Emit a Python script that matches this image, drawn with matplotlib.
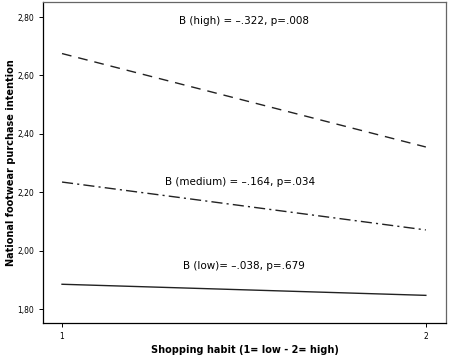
import matplotlib.pyplot as plt
from matplotlib.ticker import FuncFormatter

# simple slopes: shopping habit (1 = low, 2 = high)
habit = [1, 2]
high_vals = [2.675, 2.355]
medium_vals = [2.235, 2.071]
low_vals = [1.885, 1.847]

labels = {
    "high": "B (high) = \u2013.322, p=.008",
    "medium": "B (medium) = \u2013.164, p=.034",
    "low": "B (low)= \u2013.038, p=.679",
}
yticks = [1.80, 2.00, 2.20, 2.40, 2.60, 2.80]

plt.rcParams.update({
    "font.family": "DejaVu Sans",
    "axes.linewidth": 0.9,
})

fig = plt.figure(figsize=(4.49, 3.59), dpi=100)
ax = fig.add_axes([0.096, 0.100, 0.897, 0.894])

ax.plot(habit, high_vals, color="#222222", lw=1.0, linestyle=(0, (7, 5)))
ax.plot(habit, medium_vals, color="#222222", lw=1.0, linestyle=(0, (8, 3, 1.5, 3)))
ax.plot(habit, low_vals, color="#222222", lw=1.0, linestyle="-")

ax.text(1.50, 2.785, labels["high"], ha="center", va="center", fontsize=7.5)
ax.text(1.49, 2.235, labels["medium"], ha="center", va="center", fontsize=7.5)
ax.text(1.50, 1.947, labels["low"], ha="center", va="center", fontsize=7.5)

ax.set_xlim(0.948, 2.055)
ax.set_ylim(1.752, 2.851)
ax.set_xticks(habit)
ax.set_yticks(yticks)
ax.yaxis.set_major_formatter(FuncFormatter(lambda v, p: f"{v:.2f}".replace(".", ",")))
ax.tick_params(labelsize=5.5, length=3, width=0.7, direction="out")

ax.set_xlabel("Shopping habit (1= low - 2= high)", fontsize=7, fontweight="bold", labelpad=3)
ax.set_ylabel("National footwear purchase intention", fontsize=7, fontweight="bold", labelpad=1)

for side in ["top", "right"]:
    ax.spines[side].set_color("#666666")

fig.savefig("out.png", dpi=100)
